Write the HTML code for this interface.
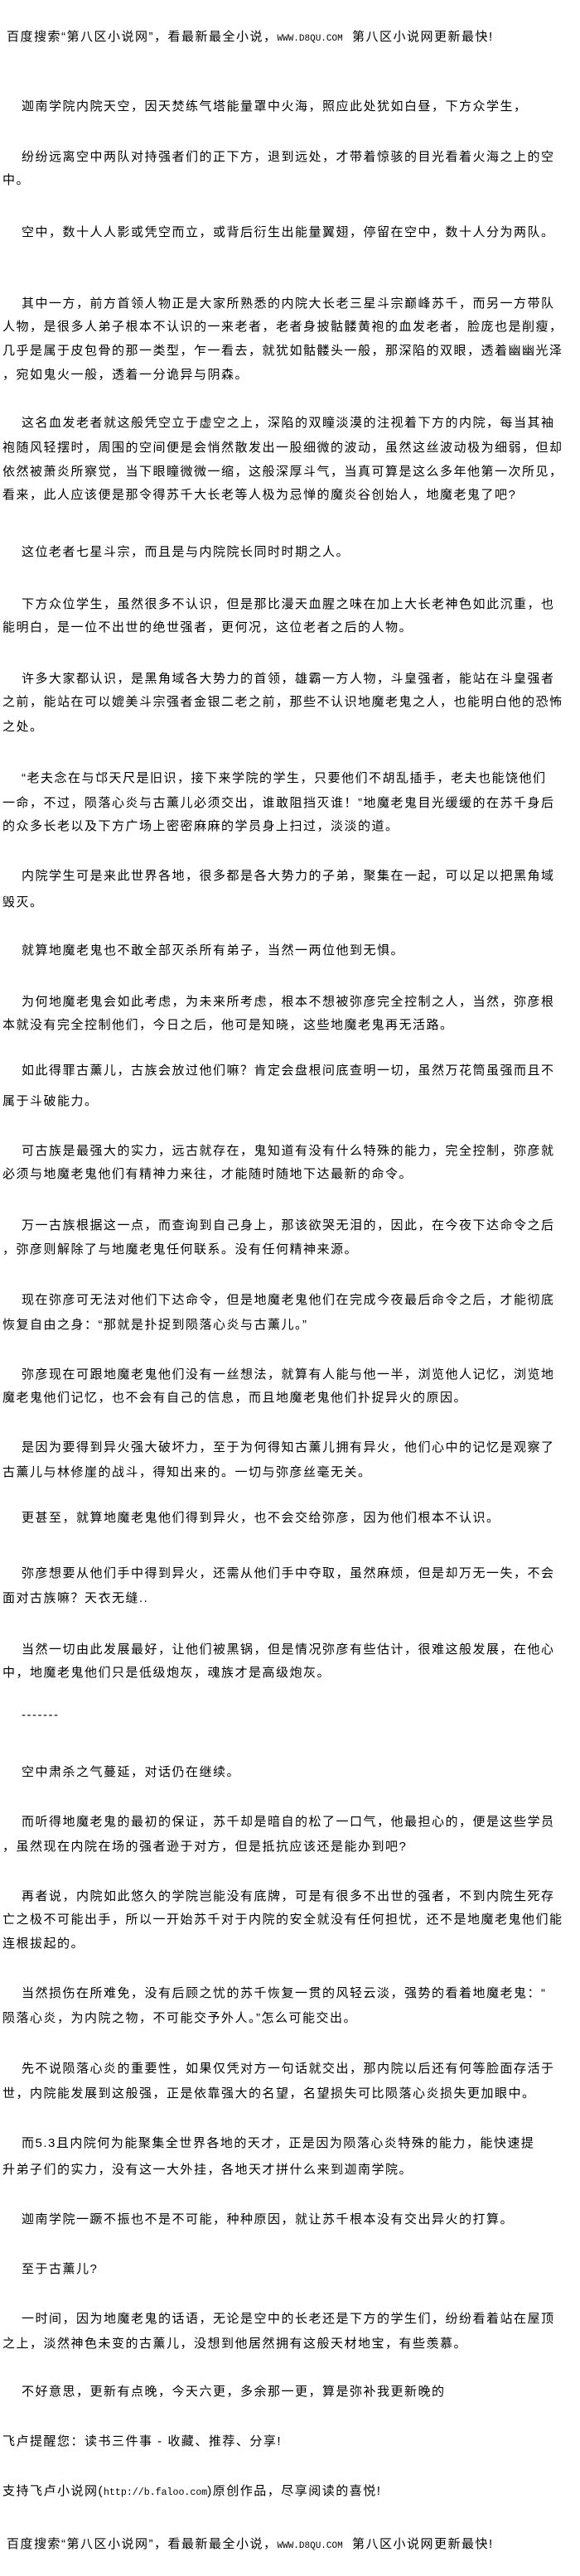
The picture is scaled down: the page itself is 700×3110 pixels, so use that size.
<!DOCTYPE html>
<html><head><meta charset="utf-8">
<style>
html,body{margin:0;padding:0;background:#fff;}
body{width:700px;height:3110px;position:relative;overflow:hidden;
font-family:"Liberation Sans","WenQuanYi Zen Hei","Noto Sans CJK SC",sans-serif;
font-size:15px;letter-spacing:1.5px;color:#000;}
.l{position:absolute;left:3px;white-space:nowrap;line-height:22px;height:22px;}
.i{left:26px;}
.h{left:8px;}
.m{font-family:"Liberation Mono",monospace;letter-spacing:0;font-size:11px;}
.m2{font-family:"Liberation Mono",monospace;letter-spacing:0;font-size:11.6px;}
</style></head><body>
<div class="l h" style="top:34px">百度搜索“第八区小说网”，看最新最全小说，<span class="m">WWW.D8QU.COM</span>&nbsp;&nbsp;第八区小说网更新最快!</div>

<div class="l i" style="top:118px">迦南学院内院天空，因天焚练气塔能量罩中火海，照应此处犹如白昼，下方众学生，</div>
<div class="l i" style="top:179px">纷纷远离空中两队对持强者们的正下方，退到远处，才带着惊骇的目光看着火海之上的空</div>
<div class="l" style="top:207px">中。</div>

<div class="l i" style="top:270px">空中，数十人人影或凭空而立，或背后衍生出能量翼翅，停留在空中，数十人分为两队。</div>

<div class="l i" style="top:356px">其中一方，前方首领人物正是大家所熟悉的内院大长老三星斗宗巅峰苏千，而另一方带队</div>
<div class="l" style="top:384px">人物，是很多人弟子根本不认识的一来老者，老者身披骷髅黄袍的血发老者，脸庞也是削瘦，</div>
<div class="l" style="top:413px">几乎是属于皮包骨的那一类型，乍一看去，就犹如骷髅头一般，那深陷的双眼，透着幽幽光泽</div>
<div class="l" style="top:442px">，宛如鬼火一般，透着一分诡异与阴森。</div>

<div class="l i" style="top:500px">这名血发老者就这般凭空立于虚空之上，深陷的双瞳淡漠的注视着下方的内院，每当其袖</div>
<div class="l" style="top:530px">袍随风轻摆时，周围的空间便是会悄然散发出一股细微的波动，虽然这丝波动极为细弱，但却</div>
<div class="l" style="top:559px">依然被萧炎所察觉，当下眼瞳微微一缩，这般深厚斗气，当真可算是这么多年他第一次所见，</div>
<div class="l" style="top:587px">看来，此人应该便是那令得苏千大长老等人极为忌惮的魔炎谷创始人，地魔老鬼了吧?</div>

<div class="l i" style="top:656px">这位老者七星斗宗，而且是与内院院长同时时期之人。</div>

<div class="l i" style="top:719px">下方众位学生，虽然很多不认识，但是那比漫天血腥之味在加上大长老神色如此沉重，也</div>
<div class="l" style="top:747px">能明白，是一位不出世的绝世强者，更何况，这位老者之后的人物。</div>

<div class="l i" style="top:809px">许多大家都认识，是黑角域各大势力的首领，雄霸一方人物，斗皇强者，能站在斗皇强者</div>
<div class="l" style="top:837px">之前，能站在可以媲美斗宗强者金银二老之前，那些不认识地魔老鬼之人，也能明白他的恐怖</div>
<div class="l" style="top:867px">之处。</div>

<div class="l i" style="top:929px">“老夫念在与邙天尺是旧识，接下来学院的学生，只要他们不胡乱插手，老夫也能饶他们</div>
<div class="l" style="top:959px">一命，不过，陨落心炎与古薰儿必须交出，谁敢阻挡灭谁！”地魔老鬼目光缓缓的在苏千身后</div>
<div class="l" style="top:987px">的众多长老以及下方广场上密密麻麻的学员身上扫过，淡淡的道。</div>

<div class="l i" style="top:1047px">内院学生可是来此世界各地，很多都是各大势力的子弟，聚集在一起，可以足以把黑角域</div>
<div class="l" style="top:1079px">毁灭。</div>

<div class="l i" style="top:1137px">就算地魔老鬼也不敢全部灭杀所有弟子，当然一两位他到无惧。</div>

<div class="l i" style="top:1199px">为何地魔老鬼会如此考虑，为未来所考虑，根本不想被弥彦完全控制之人，当然，弥彦根</div>
<div class="l" style="top:1227px">本就没有完全控制他们，今日之后，他可是知晓，这些地魔老鬼再无活路。</div>

<div class="l i" style="top:1282px">如此得罪古薰儿，古族会放过他们嘛？肯定会盘根问底查明一切，虽然万花筒虽强而且不</div>
<div class="l" style="top:1319px">属于斗破能力。</div>

<div class="l i" style="top:1379px">可古族是最强大的实力，远古就存在，鬼知道有没有什么特殊的能力，完全控制，弥彦就</div>
<div class="l" style="top:1407px">必须与地魔老鬼他们有精神力来往，才能随时随地下达最新的命令。</div>

<div class="l i" style="top:1469px">万一古族根据这一点，而查询到自己身上，那该欲哭无泪的，因此，在今夜下达命令之后</div>
<div class="l" style="top:1498px">，弥彦则解除了与地魔老鬼任何联系。没有任何精神来源。</div>

<div class="l i" style="top:1559px">现在弥彦可无法对他们下达命令，但是地魔老鬼他们在完成今夜最后命令之后，才能彻底</div>
<div class="l" style="top:1589px">恢复自由之身：“那就是扑捉到陨落心炎与古薰儿。”</div>

<div class="l i" style="top:1649px">弥彦现在可跟地魔老鬼他们没有一丝想法，就算有人能与他一半，浏览他人记忆，浏览地</div>
<div class="l" style="top:1677px">魔老鬼他们记忆，也不会有自己的信息，而且地魔老鬼他们扑捉异火的原因。</div>

<div class="l i" style="top:1737px">是因为要得到异火强大破坏力，至于为何得知古薰儿拥有异火，他们心中的记忆是观察了</div>
<div class="l" style="top:1767px">古薰儿与林修崖的战斗，得知出来的。一切与弥彦丝毫无关。</div>

<div class="l i" style="top:1822px">更甚至，就算地魔老鬼他们得到异火，也不会交给弥彦，因为他们根本不认识。</div>

<div class="l i" style="top:1889px">弥彦想要从他们手中得到异火，还需从他们手中夺取，虽然麻烦，但是却万无一失，不会</div>
<div class="l" style="top:1919px">面对古族嘛？天衣无缝..</div>

<div class="l i" style="top:1981px">当然一切由此发展最好，让他们被黑锅，但是情况弥彦有些估计，很难这般发展，在他心</div>
<div class="l" style="top:2009px">中，地魔老鬼他们只是低级炮灰，魂族才是高级炮灰。</div>

<div class="l i" style="top:2060px">-------</div>

<div class="l i" style="top:2129px">空中肃杀之气蔓延，对话仍在继续。</div>

<div class="l i" style="top:2189px">而听得地魔老鬼的最初的保证，苏千却是暗自的松了一口气，他最担心的，便是这些学员</div>
<div class="l" style="top:2219px">，虽然现在内院在场的强者逊于对方，但是抵抗应该还是能办到吧?</div>

<div class="l i" style="top:2279px">再者说，内院如此悠久的学院岂能没有底牌，可是有很多不出世的强者，不到内院生死存</div>
<div class="l" style="top:2307px">亡之极不可能出手，所以一开始苏千对于内院的安全就没有任何担忧，还不是地魔老鬼他们能</div>
<div class="l" style="top:2336px">连根拔起的。</div>

<div class="l i" style="top:2396px">当然损伤在所难免，没有后顾之忧的苏千恢复一贯的风轻云淡，强势的看着地魔老鬼：“</div>
<div class="l" style="top:2426px">陨落心炎，为内院之物，不可能交予外人。”怎么可能交出。</div>

<div class="l i" style="top:2487px">先不说陨落心炎的重要性，如果仅凭对方一句话就交出，那内院以后还有何等脸面存活于</div>
<div class="l" style="top:2517px">世，内院能发展到这般强，正是依靠强大的名望，名望损失可比陨落心炎损失更加眼中。</div>

<div class="l i" style="top:2577px">而5.3且内院何为能聚集全世界各地的天才，正是因为陨落心炎特殊的能力，能快速提</div>
<div class="l" style="top:2609px">升弟子们的实力，没有这一大外挂，各地天才拼什么来到迦南学院。</div>

<div class="l i" style="top:2669px">迦南学院一蹶不振也不是不可能，种种原因，就让苏千根本没有交出异火的打算。</div>

<div class="l i" style="top:2729px">至于古薰儿?</div>

<div class="l i" style="top:2789px">一时间，因为地魔老鬼的话语，无论是空中的长老还是下方的学生们，纷纷看着站在屋顶</div>
<div class="l" style="top:2819px">之上，淡然神色未变的古薰儿，没想到他居然拥有这般天材地宝，有些羡慕。</div>

<div class="l i" style="top:2877px">不好意思，更新有点晚，今天六更，多余那一更，算是弥补我更新晚的</div>

<div class="l" style="top:2937px">飞卢提醒您：读书三件事 - 收藏、推荐、分享!</div>

<div class="l" style="top:2997px">支持飞卢小说网(<span class="m2">http://b.faloo.com</span>)原创作品，尽享阅读的喜悦!</div>

<div class="l h" style="top:3061px">百度搜索“第八区小说网”，看最新最全小说，<span class="m">WWW.D8QU.COM</span>&nbsp;&nbsp;第八区小说网更新最快!</div>
</body></html>
